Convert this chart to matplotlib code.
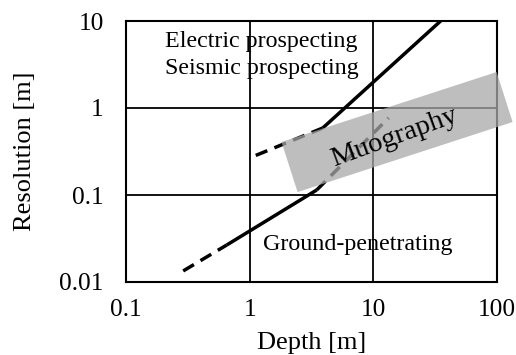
import matplotlib
matplotlib.use("Agg")
import matplotlib.pyplot as plt
from matplotlib.patches import Polygon

plt.rcParams['font.family'] = ['Liberation Serif', 'DejaVu Serif']

# Data
x_ticks = [0.1, 1, 10, 100]
x_tick_labels = ["0.1", "1", "10", "100"]
y_ticks = [0.01, 0.1, 1, 10]
y_tick_labels = ["0.01", "0.1", "1", "10"]

# Electric / Seismic prospecting line
upper_dash_x = [1.12, 3.9]
upper_dash_y = [0.285, 0.589]
upper_solid_x = [3.9, 35.0]
upper_solid_y = [0.589, 10.0]

# Ground-penetrating line
lower_dash1_x = [0.29, 0.652]
lower_dash1_y = [0.0134, 0.0266]
lower_solid_x = [0.652, 3.48]
lower_solid_y = [0.0266, 0.114]
lower_dash2_x = [3.48, 13.3]
lower_dash2_y = [0.114, 0.77]

# Muography band (corners)
box_x = [1.81, 99.3, 133.7, 2.44]
box_y = [0.407, 2.59, 0.69, 0.108]

W, H = 516, 355
fig = plt.figure(figsize=(W / 100, H / 100), dpi=100)
ax = fig.add_axes([126 / W, (H - 282) / H, (497 - 126) / W, (282 - 21) / H])
ax.set_xscale('log')
ax.set_yscale('log')
ax.set_xlim(0.1, 100)
ax.set_ylim(0.01, 10)

ax.set_xticks(x_ticks)
ax.set_xticklabels(x_tick_labels)
ax.set_yticks(y_ticks)
ax.set_yticklabels(y_tick_labels)
ax.minorticks_off()
ax.tick_params(axis='both', length=0, labelsize=18.3)
ax.tick_params(axis='y', pad=16)
ax.tick_params(axis='x', pad=12)
ax.grid(True, color='black', linewidth=1.3)
ax.set_axisbelow(True)
for s in ax.spines.values():
    s.set_linewidth(1.5)

lw = 2.5
dash = (0, (3.6, 2.2))
ax.plot(upper_dash_x, upper_dash_y, color='black', lw=lw, linestyle=dash)
ax.plot(upper_solid_x, upper_solid_y, color='black', lw=lw, solid_capstyle='butt')
ax.plot(lower_dash1_x, lower_dash1_y, color='black', lw=lw, linestyle=dash)
ax.plot(lower_solid_x, lower_solid_y, color='black', lw=lw, solid_capstyle='butt')
ax.plot(lower_dash2_x, lower_dash2_y, color='black', lw=lw, linestyle=dash)

poly = Polygon(list(zip(box_x, box_y)), closed=True, facecolor='#a8a8a8',
               edgecolor='none', alpha=0.75, clip_on=False, zorder=5)
ax.add_patch(poly)

ax.text(0.2065, 5.07, "Electric prospecting", fontsize=17.3, va='baseline', ha='left', zorder=6)
ax.text(0.2065, 2.46, "Seismic prospecting", fontsize=17.3, va='baseline', ha='left', zorder=6)
ax.text(1.27, 0.0233, "Ground-penetrating", fontsize=17.3, va='baseline', ha='left', zorder=6)
ax.text(14.9, 0.464, "Muography", fontsize=20.5, rotation=20, rotation_mode='anchor',
        ha='center', va='center', zorder=6)

ax.set_xlabel("Depth [m]", fontsize=19, labelpad=8)
ax.set_ylabel("Resolution [m]", fontsize=19, labelpad=17)

fig.savefig("out.png", dpi=100)
